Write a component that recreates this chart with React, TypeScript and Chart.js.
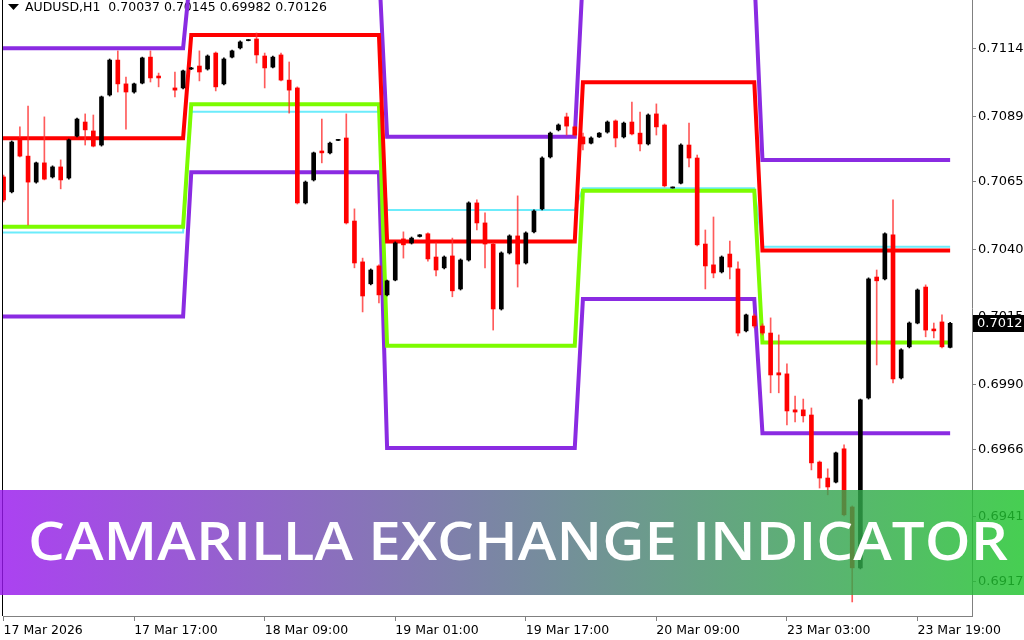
import React, { useEffect, useRef } from 'react';
import { Chart, registerables } from 'chart.js';

Chart.register(...registerables);

// ---- hourly bars (bar index counted from 17 Mar 00:00) ----
const barIdx = [
  1, 2, 3, 4, 5, 6, 7, 8, 9, 10, 11, 12, 13, 14, 15, 16, 17, 18, 19, 20,
  22, 23, 24, 25, 26, 27, 28, 29, 30, 31, 32, 33, 34, 35, 36, 37, 38, 39, 40,
  41, 42, 43, 44, 45, 46, 47, 48, 49, 50, 51, 52, 53, 54, 55, 56, 57, 58, 59, 60,
  61, 62, 63, 64, 65, 66, 67, 68, 69, 70, 71, 72, 73, 74, 75, 76, 77, 78, 79, 80,
  81, 82, 83, 84, 85, 86, 87, 88, 89, 90, 91, 92, 93, 94, 95, 96, 97, 98, 99, 100,
  101, 102, 103, 104, 105, 106, 107, 108, 109, 110, 111, 112, 113, 114, 115, 116, 117,
];
const opens = [
  0.70667, 0.70612, 0.70811, 0.70744, 0.70648, 0.70719, 0.70667, 0.70704, 0.70663, 0.70818,
  0.70870, 0.70837, 0.70785, 0.70970, 0.71099, 0.71011, 0.70981, 0.71014, 0.71110, 0.71040,
  0.70996, 0.70996, 0.71066, 0.71077, 0.71066, 0.71125, 0.71011, 0.71110, 0.71144, 0.71171,
  0.71177, 0.71114, 0.71073, 0.71118, 0.71025, 0.70996, 0.70571, 0.70656, 0.70763,
  0.70756, 0.70802, 0.70811, 0.70504, 0.70353, 0.70272, 0.70338, 0.70231, 0.70286, 0.70438,
  0.70423, 0.70447, 0.70457, 0.70371, 0.70331, 0.70375, 0.70253, 0.70360, 0.70571, 0.70497,
  0.70419, 0.70179, 0.70386, 0.70449, 0.70349, 0.70464, 0.70549, 0.70741, 0.70841, 0.70889,
  0.70852, 0.70815, 0.70792, 0.70815, 0.70833, 0.70874, 0.70815, 0.70870, 0.70829, 0.70789,
  0.70900, 0.70859, 0.70626, 0.70644, 0.70785, 0.70737, 0.70419, 0.70342, 0.70316, 0.70382,
  0.70327, 0.70098, 0.70153, 0.70116, 0.70090, 0.69943, 0.69939, 0.69806, 0.69806, 0.69787,
  0.69613, 0.69554, 0.69539, 0.69662, 0.69447, 0.69222, 0.69850, 0.70297, 0.70290, 0.70453,
  0.69924, 0.70039, 0.70127, 0.70260, 0.70105, 0.70131, 0.70037,
];
const highs = [
  0.70674, 0.70800, 0.70852, 0.70929, 0.70722, 0.70889, 0.70708, 0.70730, 0.70807, 0.70885,
  0.70900, 0.70896, 0.70966, 0.71103, 0.71133, 0.71036, 0.71014, 0.71110, 0.71133, 0.71051,
  0.71055, 0.71062, 0.71072, 0.71133, 0.71118, 0.71129, 0.71107, 0.71136, 0.71170, 0.71175,
  0.71199, 0.71125, 0.71114, 0.71125, 0.71092, 0.71000, 0.70652, 0.70759, 0.70881,
  0.70796, 0.70806, 0.70900, 0.70549, 0.70367, 0.70327, 0.70342, 0.70286, 0.70427, 0.70464,
  0.70445, 0.70454, 0.70460, 0.70423, 0.70375, 0.70441, 0.70364, 0.70575, 0.70582, 0.70534,
  0.70423, 0.70390, 0.70453, 0.70597, 0.70464, 0.70545, 0.70741, 0.70833, 0.70863, 0.70903,
  0.70855, 0.70829, 0.70815, 0.70831, 0.70874, 0.70878, 0.70870, 0.70944, 0.70907, 0.70900,
  0.70937, 0.70863, 0.70630, 0.70789, 0.70866, 0.70748, 0.70471, 0.70519, 0.70375, 0.70430,
  0.70353, 0.70160, 0.70160, 0.70124, 0.70146, 0.70083, 0.69976, 0.69857, 0.69846, 0.69813,
  0.69617, 0.69588, 0.69650, 0.69677, 0.69451, 0.69846, 0.70294, 0.70323, 0.70460, 0.70582,
  0.70032, 0.70131, 0.70253, 0.70268, 0.70127, 0.70157, 0.70130,
];
const lows = [
  0.70575, 0.70608, 0.70741, 0.70490, 0.70644, 0.70656, 0.70663, 0.70623, 0.70659, 0.70815,
  0.70785, 0.70778, 0.70781, 0.70966, 0.70981, 0.70844, 0.70977, 0.71011, 0.71018, 0.71000,
  0.70963, 0.70992, 0.71064, 0.71022, 0.71062, 0.70985, 0.71007, 0.71107, 0.71140, 0.71170,
  0.71088, 0.70996, 0.71070, 0.71022, 0.70903, 0.70567, 0.70567, 0.70652, 0.70719,
  0.70752, 0.70801, 0.70493, 0.70331, 0.70168, 0.70268, 0.70201, 0.70227, 0.70283, 0.70367,
  0.70419, 0.70445, 0.70356, 0.70301, 0.70327, 0.70224, 0.70249, 0.70356, 0.70471, 0.70331,
  0.70101, 0.70175, 0.70382, 0.70260, 0.70345, 0.70460, 0.70545, 0.70737, 0.70837, 0.70822,
  0.70818, 0.70767, 0.70789, 0.70813, 0.70829, 0.70778, 0.70811, 0.70822, 0.70763, 0.70785,
  0.70822, 0.70630, 0.70626, 0.70641, 0.70704, 0.70412, 0.70253, 0.70294, 0.70312, 0.70290,
  0.70079, 0.70094, 0.70109, 0.70083, 0.69869, 0.69869, 0.69750, 0.69761, 0.69761, 0.69584,
  0.69517, 0.69492, 0.69536, 0.69414, 0.69096, 0.69218, 0.69846, 0.69972, 0.70286, 0.69906,
  0.69920, 0.70035, 0.70124, 0.70076, 0.70072, 0.70035, 0.70035,
];
const closes = [
  0.70582, 0.70796, 0.70744, 0.70648, 0.70719, 0.70659, 0.70704, 0.70656, 0.70804, 0.70881,
  0.70841, 0.70781, 0.70963, 0.71099, 0.71011, 0.70981, 0.71011, 0.71107, 0.71033, 0.71033,
  0.70988, 0.71059, 0.71070, 0.71055, 0.71114, 0.71000, 0.71103, 0.71133, 0.71166, 0.71174,
  0.71118, 0.71070, 0.71110, 0.71025, 0.70988, 0.70571, 0.70648, 0.70756, 0.70756,
  0.70792, 0.70805, 0.70497, 0.70349, 0.70227, 0.70323, 0.70231, 0.70283, 0.70423, 0.70416,
  0.70441, 0.70453, 0.70364, 0.70323, 0.70371, 0.70246, 0.70360, 0.70571, 0.70497, 0.70419,
  0.70179, 0.70386, 0.70449, 0.70345, 0.70460, 0.70541, 0.70737, 0.70829, 0.70859, 0.70855,
  0.70822, 0.70789, 0.70811, 0.70829, 0.70870, 0.70811, 0.70866, 0.70826, 0.70789, 0.70896,
  0.70852, 0.70634, 0.70630, 0.70785, 0.70737, 0.70416, 0.70338, 0.70312, 0.70371, 0.70334,
  0.70090, 0.70157, 0.70116, 0.70090, 0.69935, 0.69935, 0.69802, 0.69798, 0.69784, 0.69610,
  0.69554, 0.69521, 0.69647, 0.69418, 0.69222, 0.69843, 0.70290, 0.70283, 0.70457, 0.69920,
  0.70028, 0.70127, 0.70249, 0.70101, 0.70098, 0.70039, 0.70126,
];

// ---- Camarilla levels per trading day ----
const dayFirstBar = [0, 24, 48, 72, 94];
const dayLastBar = [23, 47, 71, 93, 117];
const levelH4 = [0.71143, 0.71446, 0.70816, 0.71417, 0.7073];
const levelH3 = [0.7081, 0.71192, 0.70428, 0.71017, 0.70395];
const levelPivot = [0.70462, 0.70908, 0.70545, 0.70625, 0.70409];
const levelL3 = [0.70483, 0.70936, 0.70043, 0.70616, 0.70055];
const levelL4 = [0.70151, 0.70684, 0.69665, 0.70216, 0.6972];

// ---- axes ----
const xTickBars = [1, 17, 33, 49, 65, 81, 97, 113];
const xTickLabels = [
  '17 Mar 2026', '17 Mar 17:00', '18 Mar 09:00', '19 Mar 01:00',
  '19 Mar 17:00', '20 Mar 09:00', '23 Mar 03:00', '23 Mar 19:00',
];
const yTickValues = [0.7114, 0.7089, 0.7065, 0.704, 0.7015, 0.699, 0.6966, 0.6941, 0.6917];
const headerText = 'AUDUSD,H1  0.70037 0.70145 0.69982 0.70126';
const bannerText = 'CAMARILLA EXCHANGE INDICATOR';

function levelSeries(levels: number[]) {
  const pts: { x: number; y: number }[] = [];
  for (let d = 0; d < levels.length; d++) {
    for (let i = dayFirstBar[d]; i <= dayLastBar[d]; i++) pts.push({ x: i, y: levels[d] });
  }
  return pts;
}

const overlayPlugin = {
  id: 'overlay',
  beforeDatasetsDraw(chart: any) {
    const ctx = chart.ctx as CanvasRenderingContext2D;
    ctx.save();
    ctx.strokeStyle = '#000';
    ctx.lineWidth = 1;
    ctx.beginPath();
    ctx.moveTo(2.5, 0);
    ctx.lineTo(2.5, chart.chartArea.bottom);
    ctx.stroke();
    ctx.fillStyle = '#000';
    ctx.beginPath();
    ctx.moveTo(8, 4);
    ctx.lineTo(19, 4);
    ctx.lineTo(13.5, 10);
    ctx.closePath();
    ctx.fill();
    ctx.font = '12.5px "DejaVu Sans"';
    ctx.textBaseline = 'middle';
    ctx.textAlign = 'left';
    ctx.fillText(headerText, 25, 7.5);
    ctx.restore();
  },
  afterDraw(chart: any) {
    const ctx = chart.ctx as CanvasRenderingContext2D;
    const yScale = chart.scales.y;
    ctx.save();
    const last = closes[closes.length - 1];
    const py = Math.round(yScale.getPixelForValue(last));
    ctx.fillStyle = '#000';
    ctx.fillRect(973, py - 8, 51, 17);
    ctx.fillStyle = '#fff';
    ctx.font = '13px "DejaVu Sans"';
    ctx.textBaseline = 'middle';
    ctx.textAlign = 'left';
    ctx.fillText((Math.floor(last * 10000) / 10000).toFixed(4), 977, py + 0.5);
    const grad = ctx.createLinearGradient(0, 0, 1024, 0);
    grad.addColorStop(0, 'rgba(153,24,238,0.82)');
    grad.addColorStop(1, 'rgba(30,196,44,0.82)');
    ctx.fillStyle = grad;
    ctx.fillRect(0, 490, 1024, 105);
    ctx.fillStyle = '#fff';
    ctx.font = '600 53px "Open Sans"';
    ctx.textBaseline = 'alphabetic';
    ctx.textAlign = 'left';
    const w0 = ctx.measureText(bannerText).width;
    const sx = 980 / w0;
    ctx.translate(28, 560);
    ctx.scale(sx, 1);
    ctx.fillText(bannerText, 0, 0);
    ctx.restore();
  },
};

export default function App() {
  const ref = useRef<HTMLCanvasElement>(null);
  useEffect(() => {
    const canvas = ref.current;
    if (!canvas) return;
    const up = barIdx.map((_, k) => closes[k] >= opens[k]);
    const wickData = barIdx.map((b, k) => ({ x: b, y: [lows[k], highs[k]] }));
    const bodyData = barIdx.map((b, k) => ({ x: b, y: [opens[k], closes[k]] }));
    const lineBase = {
      type: 'line' as const,
      pointRadius: 0,
      borderWidth: 4,
      borderJoinStyle: 'miter' as const,
      borderCapStyle: 'butt' as const,
      fill: false,
      clip: 0,
      tension: 0,
    };
    const chart = new Chart(canvas, {
      type: 'bar',
      data: {
        datasets: [
          { ...lineBase, label: 'H4', data: levelSeries(levelH4), borderColor: '#8a2be2', order: 7 },
          { ...lineBase, label: 'L4', data: levelSeries(levelL4), borderColor: '#8a2be2', order: 6 },
          { ...lineBase, label: 'Pivot', data: levelSeries(levelPivot), borderColor: '#6cecfb', borderWidth: 2, order: 5 },
          { ...lineBase, label: 'L3', data: levelSeries(levelL3), borderColor: '#7cfc00', order: 4 },
          { ...lineBase, label: 'H3', data: levelSeries(levelH3), borderColor: '#ff0000', order: 3 },
          {
            type: 'bar', label: 'wick', data: wickData as any,
            backgroundColor: up.map((u) => (u ? '#000000' : 'rgba(255,50,50,0.8)')),
            barThickness: 1, grouped: false, order: 1, minBarLength: 1, borderWidth: 0,
          },
          {
            type: 'bar', label: 'body', data: bodyData as any,
            backgroundColor: up.map((u) => (u ? '#000000' : '#ff0000')),
            barThickness: 4, grouped: false, order: 0, minBarLength: 1, borderWidth: 0,
          },
        ] as any,
      },
      options: {
        responsive: false,
        animation: false,
        devicePixelRatio: 1,
        events: [],
        layout: { padding: { left: 3, top: 0, right: 0, bottom: 0 } },
        plugins: { legend: { display: false }, tooltip: { enabled: false } },
        scales: {
          x: {
            type: 'linear',
            min: 0.93,
            max: 119.68,
            offset: false,
            afterBuildTicks: (s: any) => { s.ticks = xTickBars.map((v) => ({ value: v })); },
            afterFit: (s: any) => { s.height = 24; s.paddingLeft = 0; s.paddingRight = 0; },
            ticks: {
              autoSkip: false, maxRotation: 0, minRotation: 0, align: 'start',
              color: '#000', padding: 2, font: { family: 'DejaVu Sans', size: 12.5 },
              callback: (_v: any, i: number) => xTickLabels[i],
            },
            grid: { drawOnChartArea: false, drawTicks: true, tickLength: 5, color: '#808080', offset: false },
            border: { display: true, color: '#808080', width: 1 },
          },
          y: {
            type: 'linear',
            position: 'right',
            min: 0.69044,
            max: 0.713211,
            afterBuildTicks: (s: any) => { s.ticks = yTickValues.map((v) => ({ value: v })); },
            afterFit: (s: any) => { s.width = 52; s.paddingTop = 0; s.paddingBottom = 0; },
            ticks: {
              color: '#000', padding: 2, font: { family: 'DejaVu Sans', size: 13 },
              callback: (v: any) => Number(v).toFixed(4),
            },
            grid: { drawOnChartArea: false, drawTicks: true, tickLength: 4, color: '#808080' },
            border: { display: true, color: '#808080', width: 1 },
          },
        },
      } as any,
      plugins: [overlayPlugin],
    });
    return () => chart.destroy();
  }, []);
  return (
    <div style={{ position: 'fixed', left: 0, top: 0, width: 1024, height: 640, background: '#fff' }}>
      <canvas ref={ref} width={1024} height={640} style={{ display: 'block', width: 1024, height: 640 }} />
    </div>
  );
}
